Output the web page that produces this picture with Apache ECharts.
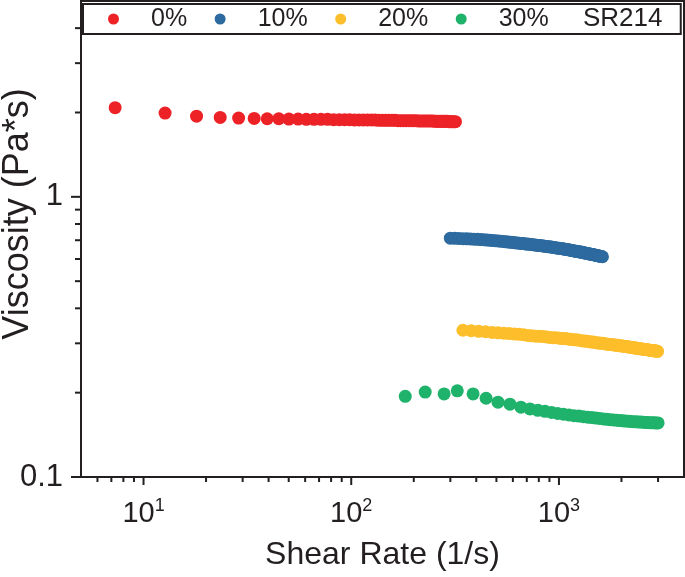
<!DOCTYPE html>
<html>
<head>
<meta charset="utf-8">
<script src="https://cdn.jsdelivr.net/npm/echarts@6/dist/echarts.min.js"></script>
<style>html,body{margin:0;padding:0;background:#fff;}#c{width:685px;height:577px;}</style>
</head>
<body>
<div id="c"></div>
<script>
// ---- data ----
const seriesNames = ['0%', '10%', '20%', '30%'];
const legendTitle = 'SR214';

const rate0 = [7.3, 12.7, 18.0, 23.4, 28.7, 34.1, 39.4, 44.8, 50.1, 55.5, 60.8, 66.2, 71.5, 76.9, 82.2, 87.6, 92.9, 98.3, 103.6, 109.0, 114.3, 119.7, 125.0, 130.4, 135.7, 141.1, 146.4, 151.8, 157.1, 162.5, 167.8, 173.2, 178.5, 183.9, 189.2, 194.6, 199.9, 205.3, 210.6, 216.0, 221.3, 226.7, 232.0, 237.4, 242.7, 248.1, 253.4, 258.8, 264.1, 269.5, 274.8, 280.2, 285.5, 290.9, 296.2, 301.6, 306.9, 312.3, 317.6];
const visc0 = [2.08, 1.99, 1.94, 1.92, 1.91, 1.905, 1.90, 1.90, 1.895, 1.895,
  1.89, 1.89, 1.89, 1.89, 1.885, 1.885, 1.885, 1.885, 1.88, 1.88,
  1.88, 1.88, 1.88, 1.88, 1.875, 1.875, 1.875, 1.875, 1.875, 1.875,
  1.87, 1.87, 1.87, 1.87, 1.87, 1.87, 1.87, 1.87, 1.865, 1.865,
  1.865, 1.865, 1.865, 1.865, 1.865, 1.865, 1.86, 1.86, 1.86, 1.86,
  1.86, 1.86, 1.86, 1.86, 1.855, 1.855, 1.855, 1.855, 1.855];

const rate10 = [300, 315, 330, 345, 360, 375, 390, 405, 420, 435, 450, 465, 480, 495, 510, 525, 540, 555, 570, 585, 600, 615, 630, 645, 660, 675, 690, 705, 720, 735, 750, 765, 780, 795, 810, 825, 840, 855, 870, 885, 900, 915, 930, 945, 960, 975, 990, 1005, 1020, 1035, 1050, 1065, 1080, 1095, 1110, 1125, 1140, 1155, 1170, 1185, 1200, 1215, 1230, 1245, 1260, 1275, 1290, 1305, 1320, 1335, 1350, 1365, 1380, 1395, 1410, 1425, 1440, 1455, 1470, 1485, 1500, 1515, 1530, 1545, 1560, 1575, 1590, 1605, 1620];
const visc10 = [0.712, 0.711, 0.710, 0.709, 0.708, 0.707, 0.706, 0.705, 0.704, 0.703, 0.701, 0.700, 0.698, 0.697, 0.696, 0.694, 0.693, 0.691, 0.690, 0.688, 0.687, 0.686, 0.684, 0.683, 0.682, 0.681, 0.679, 0.678, 0.677, 0.676, 0.675, 0.673, 0.672, 0.671, 0.670, 0.669, 0.668, 0.666, 0.665, 0.664, 0.663, 0.662, 0.661, 0.659, 0.658, 0.657, 0.656, 0.655, 0.654, 0.653, 0.652, 0.650, 0.649, 0.648, 0.647, 0.646, 0.645, 0.643, 0.642, 0.641, 0.640, 0.639, 0.638, 0.637, 0.636, 0.635, 0.634, 0.633, 0.632, 0.630, 0.629, 0.628, 0.627, 0.626, 0.625, 0.624, 0.623, 0.622, 0.621, 0.620, 0.619, 0.618, 0.617, 0.616, 0.615, 0.614, 0.613, 0.612, 0.611];

const rate20 = [345, 378, 411, 444, 477, 510, 543, 576, 609, 642, 675, 708, 741, 774, 807, 840, 873, 906, 939, 972, 1005, 1038, 1071, 1104, 1137, 1170, 1203, 1236, 1269, 1302, 1335, 1368, 1401, 1434, 1467, 1500, 1533, 1566, 1599, 1632, 1665, 1698, 1731, 1764, 1797, 1830, 1863, 1896, 1929, 1962, 1995, 2028, 2061, 2094, 2127, 2160, 2193, 2226, 2259, 2292, 2325, 2358, 2391, 2424, 2457, 2490, 2523, 2556, 2589, 2622, 2655, 2688, 2721, 2754, 2787, 2820, 2853, 2886, 2919, 2952, 2985];
const visc20 = [0.334, 0.333, 0.331, 0.330, 0.328, 0.327, 0.326, 0.325, 0.324, 0.323, 0.322, 0.320, 0.319, 0.318, 0.318, 0.317, 0.316, 0.315, 0.314, 0.314, 0.313, 0.312, 0.312, 0.311, 0.310, 0.309, 0.309, 0.308, 0.307, 0.306, 0.306, 0.305, 0.304, 0.303, 0.303, 0.302, 0.301, 0.301, 0.300, 0.300, 0.299, 0.298, 0.298, 0.297, 0.297, 0.296, 0.296, 0.295, 0.295, 0.294, 0.294, 0.293, 0.293, 0.292, 0.292, 0.291, 0.291, 0.290, 0.290, 0.289, 0.289, 0.288, 0.288, 0.287, 0.287, 0.287, 0.286, 0.286, 0.285, 0.285, 0.285, 0.284, 0.284, 0.283, 0.283, 0.283, 0.282, 0.282, 0.282, 0.281, 0.281];

const rate30 = [182, 227, 280, 324, 386, 446, 509, 581, 656, 725, 792, 857, 922, 987, 1052, 1117, 1182, 1247, 1312, 1377, 1442, 1507, 1572, 1637, 1702, 1767, 1832, 1897, 1962, 2027, 2092, 2157, 2222, 2287, 2352, 2417, 2482, 2547, 2612, 2677, 2742, 2807, 2872, 2937, 3002];
const visc30 = [0.194, 0.201, 0.198, 0.203, 0.198, 0.191, 0.185, 0.182, 0.1775, 0.175, 0.173,
  0.1715, 0.170, 0.1685, 0.1675, 0.1665, 0.1655, 0.165, 0.1642, 0.1635, 0.163,
  0.1623, 0.1618, 0.1612, 0.1607, 0.1602, 0.1598, 0.1594, 0.159, 0.1587, 0.1584,
  0.1581, 0.1578, 0.1576, 0.1574, 0.1572, 0.157, 0.1568, 0.1566, 0.1565, 0.1563,
  0.1562, 0.1561, 0.156, 0.1559];

const xMajorTicks = [10, 100, 1000];
const xMinorTicks = [6, 7, 8, 9, 20, 30, 40, 50, 60, 70, 80, 90, 200, 300, 400, 500, 600, 700, 800, 900, 2000, 3000];
const yMajorTicks = [0.1, 1];
const yMinorTicks = [0.2, 0.3, 0.4, 0.5, 0.6, 0.7, 0.8, 0.9, 2, 3, 4];
const xRange = [5, 4000];
const yRange = [0.1, 5];

// ---- chart ----
const colors = ['#ec2227', '#2d6a9f', '#fdbe2b', '#1fb26b'];
const ink = '#231f20';
const FONT = 'Liberation Sans, Arial, sans-serif';
const rates = [rate0, rate10, rate20, rate30];
const viscs = [visc0, visc10, visc20, visc30];

function isPow10(v) {
  const l = Math.log10(v);
  return Math.abs(l - Math.round(l)) < 1e-6;
}

const scatterSeries = seriesNames.map((name, i) => ({
  name: name,
  type: 'scatter',
  symbol: 'circle',
  symbolSize: 13,
  itemStyle: { color: colors[i], opacity: 1 },
  data: rates[i].map((r, j) => [r, viscs[i][j]]),
  z: 3
}));

function xTickSeries(ticks, len) {
  return {
    type: 'custom', silent: true, z: 5,
    data: ticks.map(v => [v, yRange[0]]),
    renderItem: function (params, api) {
      const p = api.coord([api.value(0), api.value(1)]);
      return { type: 'line', shape: { x1: p[0], y1: p[1], x2: p[0], y2: p[1] + len },
        style: { stroke: ink, lineWidth: 2 } };
    }
  };
}
function yTickSeries(ticks, len) {
  return {
    type: 'custom', silent: true, z: 5,
    data: ticks.map(v => [xRange[0], v]),
    renderItem: function (params, api) {
      const p = api.coord([api.value(0), api.value(1)]);
      return { type: 'line', shape: { x1: p[0] - len, y1: p[1], x2: p[0], y2: p[1] },
        style: { stroke: ink, lineWidth: 2 } };
    }
  };
}

const chart = echarts.init(document.getElementById('c'), null, { renderer: 'canvas' });
chart.setOption({
  animation: false,
  backgroundColor: '#fff',
  textStyle: { fontFamily: FONT },
  grid: { left: 81, right: 1, top: 1, bottom: 100, show: true, borderColor: ink, borderWidth: 2,
    containLabel: false, outerBoundsMode: 'none' },
  title: {
    text: legendTitle, left: 583, top: 6, padding: 0,
    textStyle: { fontFamily: FONT, fontSize: 26, fontWeight: 'normal', color: ink }
  },
  legend: {
    data: seriesNames.map(n => ({ name: n, icon: 'circle' })),
    left: 83, top: 4,
    orient: 'horizontal',
    itemWidth: 11, itemHeight: 11, itemGap: 27.5,
    padding: [2, 132, 2, 25],
    borderColor: ink, borderWidth: 2,
    textStyle: { fontFamily: FONT, fontSize: 25, color: ink, lineHeight: 26, padding: [0, 0, 0, 27] },
    selectedMode: false
  },
  xAxis: {
    type: 'log', logBase: 10, min: xRange[0], max: xRange[1],
    splitLine: { show: false },
    axisTick: { show: false },
    minorTick: { show: false },
    axisLine: { show: true, lineStyle: { color: ink, width: 2 } },
    axisLabel: {
      margin: 20,
      color: ink,
      formatter: function (v) {
        if (!isPow10(v)) return '';
        return '{b|10}{s|' + Math.round(Math.log10(v)) + '}';
      },
      rich: {
        b: { fontFamily: FONT, fontSize: 29, color: ink, verticalAlign: 'bottom', lineHeight: 31 },
        s: { fontFamily: FONT, fontSize: 18, color: ink, verticalAlign: 'top', lineHeight: 31 }
      }
    },
    name: 'Shear Rate (1/s)',
    nameLocation: 'middle',
    nameGap: 62,
    nameMoveOverlap: false,
    nameTextStyle: { fontFamily: FONT, fontSize: 32, color: ink }
  },
  yAxis: {
    type: 'log', logBase: 10, min: yRange[0], max: yRange[1],
    splitLine: { show: false },
    axisTick: { show: false },
    minorTick: { show: false },
    axisLine: { show: true, lineStyle: { color: ink, width: 2 } },
    axisLabel: {
      margin: 18,
      color: ink,
      fontFamily: FONT,
      fontSize: 31,
      formatter: function (v) {
        if (!isPow10(v)) return '';
        return v >= 1 ? String(Math.round(v)) : String(Number(v.toPrecision(1)));
      }
    },
    name: 'Viscosity (Pa*s)',
    nameLocation: 'middle',
    nameGap: 45,
    nameMoveOverlap: false,
    nameRotate: 90,
    nameTextStyle: { fontFamily: FONT, fontSize: 36, color: ink, padding: [0, 0, 0, 50] }
  },
  series: scatterSeries.concat([
    xTickSeries(xMajorTicks, 8),
    xTickSeries(xMinorTicks, 5),
    yTickSeries(yMajorTicks, 10),
    yTickSeries(yMinorTicks, 6)
  ])
});
</script>
</body>
</html>
